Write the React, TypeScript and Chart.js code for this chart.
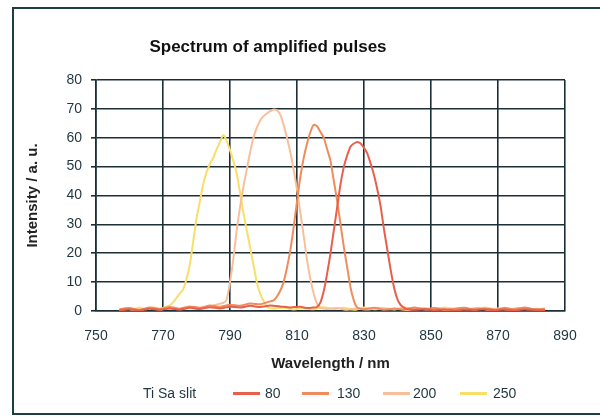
import React, { useEffect, useRef } from "react";
import { Chart, registerables } from "chart.js";

Chart.register(...registerables);

const chartTitle = "Spectrum of amplified pulses";
const xAxisTitle = "Wavelength / nm";
const yAxisTitle = "Intensity / a. u.";
const legendTitle = "Ti Sa slit";
const seriesLabels = ["80", "130", "200", "250"];
const seriesColors = ["#e8604c", "#f08c5c", "#f9bf9a", "#f7df6a"];
const xTicks = [750, 770, 790, 810, 830, 850, 870, 890];
const yTicks = [0, 10, 20, 30, 40, 50, 60, 70, 80];

const slit80: [number, number][] = [
  [757, 0.3], [760, 0.6], [763, 0.2], [766, 0.8], [769, 0.4], [772, 0.9], [775, 0.5], [778, 1.1],
  [781, 0.7], [784, 1.3], [787, 0.9], [790, 1.5], [793, 1.2], [796, 1.8], [799, 1.4], [802, 1.9],
  [805, 1.6], [808, 1.2], [811, 1.5], [813, 1.0], [815, 1.2], [816, 1.4], [817, 3], [818, 7],
  [819, 13], [820, 20], [821, 28], [822, 36], [823, 44], [824, 50], [825, 54], [826, 57],
  [827, 58], [828, 58.5], [829, 58], [830, 56.5], [831, 54.5], [832, 51], [833, 47], [834, 42],
  [835, 36], [836, 28], [837, 21], [838, 14], [839, 8], [840, 4], [841, 2], [842.5, 0.8],
  [845, 0.4], [848, 0.7], [851, 0.3], [854, 0.6], [857, 0.2], [860, 0.5], [863, 0.4], [866, 0.6],
  [869, 0.3], [872, 0.5], [875, 0.2], [878, 0.6], [881, 0.4], [884, 0.3],
];

const slit130: [number, number][] = [
  [757, 0.6], [760, 1.0], [763, 0.4], [766, 1.2], [769, 0.7], [772, 1.4], [775, 0.8], [778, 1.6],
  [781, 1.1], [784, 1.9], [787, 1.4], [790, 2.2], [793, 1.8], [796, 2.6], [799, 2.3], [801, 3.0],
  [803, 3.7], [804, 5], [805, 7], [806, 10], [807, 15], [808, 21], [809, 29], [810, 38],
  [811, 46.5], [812, 53], [813, 58], [814, 62], [815, 64.5], [816, 64], [817, 62], [818, 60],
  [819, 56], [820, 52], [821, 45], [822, 38], [823, 30], [824, 22], [825, 15], [826, 8],
  [827, 3.5], [828, 1.2], [830, 0.6], [833, 1.1], [836, 0.4], [839, 0.9], [842, 0.5], [845, 1.2],
  [848, 0.6], [851, 1.0], [854, 0.3], [857, 0.8], [860, 1.1], [863, 0.5], [866, 0.9], [869, 0.4],
  [872, 1.0], [875, 0.6], [878, 1.2], [881, 0.5], [884, 0.8],
];

const slit200: [number, number][] = [
  [757, 0.4], [760, 0.8], [763, 0.3], [766, 1.0], [769, 0.5], [772, 1.1], [775, 0.6], [778, 1.3],
  [781, 0.9], [784, 1.6], [786, 2.2], [788, 2.8], [789, 4], [790, 10], [791, 18], [792, 28],
  [793, 36], [794, 43], [795, 49], [796, 55], [797, 60], [798, 63.5], [799, 66], [800, 67.5],
  [801, 68.4], [802, 69.2], [803, 69.8], [804, 69.5], [805, 68], [806, 64.5], [807, 60], [808, 55],
  [809, 49], [810, 42], [811, 34], [812, 26], [813, 17.6], [814, 11], [815, 6], [816, 2.5],
  [817, 1.2], [819, 0.7], [822, 1.0], [825, 0.4], [828, 0.9], [831, 0.5], [834, 1.1], [837, 0.6],
  [840, 0.8], [843, 0.3], [846, 0.9], [849, 0.5], [852, 1.0], [855, 0.4], [858, 0.8], [861, 0.6],
  [864, 1.1], [867, 0.4], [870, 0.9], [873, 0.5], [876, 1.0], [879, 0.6], [882, 0.8], [884, 0.5],
];

const slit250: [number, number][] = [
  [757, 0.5], [759, 1.0], [761, 0.4], [763, 1.2], [765, 0.6], [767, 1.3], [769, 0.8], [771, 1.5],
  [772, 2], [773, 3], [774, 4.5], [775, 6], [776, 7.5], [777, 11], [778, 16], [779, 24],
  [780, 32], [781, 38], [782, 44], [783, 48], [784, 51], [785, 53], [786, 56], [787, 58.5],
  [788, 61], [789, 59], [790, 55.7], [791, 52], [792, 47.6], [793, 41], [794, 34], [795, 28],
  [796, 22], [797, 16], [798, 10], [799, 6], [800, 3.5], [801, 1.5], [803, 0.8], [806, 1.2],
  [809, 0.5], [812, 1.0], [815, 0.6], [818, 1.3], [821, 0.7], [824, 1.1], [827, 0.4], [830, 1.2],
  [833, 0.6], [836, 1.0], [839, 0.5], [842, 1.3], [845, 0.7], [848, 1.1], [851, 0.4], [854, 1.2],
  [857, 0.8], [860, 1.0], [863, 0.5], [866, 1.2], [869, 0.7], [872, 1.1], [875, 0.5], [878, 1.0],
  [881, 0.6], [884, 0.9],
];

const seriesData = [slit80, slit130, slit200, slit250];

const TEXT = "#1f3640";
const GRID = "#1c2f36";
const FONT = "Arial, 'Liberation Sans', sans-serif";

export default function App() {
  const canvasRef = useRef<HTMLCanvasElement | null>(null);

  useEffect(() => {
    if (!canvasRef.current) return;
    const chart = new Chart(canvasRef.current, {
      type: "line",
      data: {
        datasets: seriesData.map((d, i) => ({
          label: seriesLabels[i],
          data: d.map(([x, y]) => ({ x, y })),
          borderColor: seriesColors[i],
          backgroundColor: seriesColors[i],
          borderWidth: 2,
          pointRadius: 0,
          tension: 0.2,
          fill: false,
        })),
      },
      options: {
        animation: false,
        responsive: true,
        maintainAspectRatio: false,
        layout: { padding: { left: 22, top: 80, right: 35, bottom: 43 } },
        plugins: {
          legend: { display: false },
          title: { display: false },
          tooltip: { enabled: false },
        },
        scales: {
          x: {
            type: "linear",
            min: 750,
            max: 890,
            afterBuildTicks: (s: any) => {
              s.ticks = xTicks.map((v) => ({ value: v }));
            },
            afterFit: (s: any) => {
              s.height = 64;
            },
            grid: { color: GRID, lineWidth: 1.6, drawTicks: false },
            border: { color: GRID, width: 1.6 },
            ticks: {
              color: TEXT,
              font: { family: FONT, size: 14 },
              padding: 17,
              maxRotation: 0,
            },
            title: {
              display: true,
              text: xAxisTitle,
              color: "#222",
              font: { family: FONT, size: 15, weight: "bold" },
              padding: { top: 0, bottom: 2 },
            },
          },
          y: {
            type: "linear",
            min: 0,
            max: 80,
            afterBuildTicks: (s: any) => {
              s.ticks = yTicks.map((v) => ({ value: v }));
            },
            afterFit: (s: any) => {
              s.width = 74;
            },
            grid: { color: GRID, lineWidth: 1.6, drawTicks: true, tickLength: 5 },
            border: { color: GRID, width: 1.6 },
            ticks: {
              color: TEXT,
              font: { family: FONT, size: 14 },
              padding: 9,
            },
            title: {
              display: true,
              text: yAxisTitle,
              color: "#222",
              font: { family: FONT, size: 15, weight: "bold" },
              padding: { top: 2, bottom: 0 },
            },
          },
        },
      },
    });
    return () => chart.destroy();
  }, []);

  const legendItems = [
    { line: 233, text: 265 },
    { line: 302, text: 337 },
    { line: 383, text: 413 },
    { line: 460, text: 493 },
  ];

  return (
    <div
      style={{
        position: "fixed",
        left: 0,
        top: 0,
        width: 600,
        height: 418,
        overflow: "hidden",
        background: "#fff",
        fontFamily: FONT,
      }}
    >
      <div
        style={{
          position: "absolute",
          left: 12,
          top: 7,
          width: 600,
          height: 408,
          borderLeft: "2px solid #1e3d45",
          borderTop: "2px solid #1e3d45",
          borderBottom: "2px solid #1e3d45",
          boxSizing: "border-box",
        }}
      />
      <div style={{ position: "absolute", left: 0, top: 0, width: 600, height: 418 }}>
        <canvas ref={canvasRef} />
      </div>
      <div
        style={{
          position: "absolute",
          left: 0,
          width: 536,
          top: 37,
          textAlign: "center",
          fontWeight: "bold",
          fontSize: 17,
          color: "#111",
          lineHeight: "20px",
        }}
      >
        {chartTitle}
      </div>
      <div
        style={{
          position: "absolute",
          left: 143,
          top: 384,
          fontSize: 14,
          color: TEXT,
          lineHeight: "18px",
        }}
      >
        {legendTitle}
      </div>
      {legendItems.map((it, i) => (
        <React.Fragment key={i}>
          <div
            style={{
              position: "absolute",
              left: it.line,
              top: 392,
              width: 27,
              height: 2.5,
              background: seriesColors[i],
            }}
          />
          <div
            style={{
              position: "absolute",
              left: it.text,
              top: 384,
              fontSize: 14,
              color: TEXT,
              lineHeight: "18px",
            }}
          >
            {seriesLabels[i]}
          </div>
        </React.Fragment>
      ))}
    </div>
  );
}
